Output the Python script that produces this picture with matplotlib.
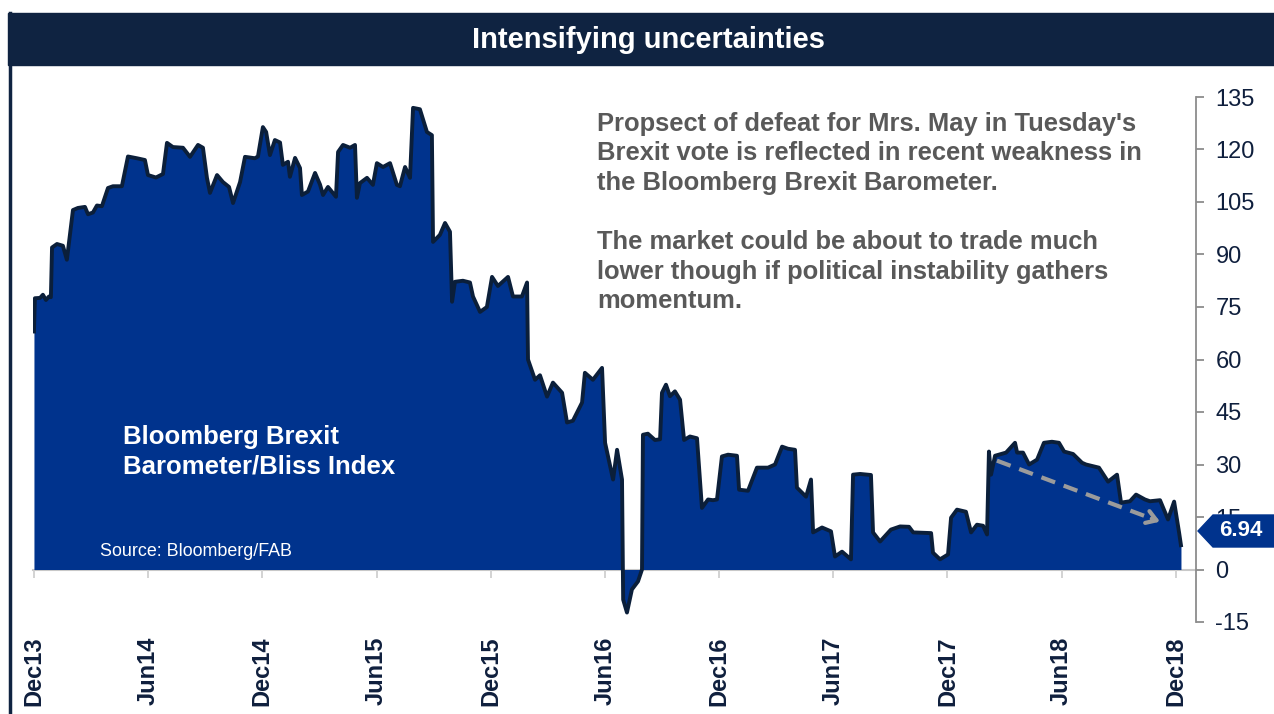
import matplotlib
matplotlib.use("Agg")
import matplotlib.pyplot as plt
from matplotlib.patches import Rectangle, Polygon
from matplotlib.lines import Line2D

plt.rcParams['font.family'] = ['Liberation Sans', 'DejaVu Sans']

# ---- data (months since Dec-2013, index value) ----
months = [0.00, 0.05, 0.32, 0.47, 0.63, 0.79, 0.89, 0.95, 1.21, 1.52, 1.73,
          2.05, 2.31, 2.68, 2.84, 3.10, 3.31, 3.57, 3.89, 4.15, 4.62, 4.94,
          5.41, 5.83, 5.99, 6.41, 6.78, 6.99, 7.30, 7.83, 8.20, 8.62, 8.88,
          9.09, 9.25, 9.62, 9.93, 10.25, 10.46, 10.83, 11.09, 11.61, 11.77,
          12.03, 12.20, 12.40, 12.66, 12.93, 13.08, 13.35, 13.45, 13.72, 13.98,
          14.08, 14.40, 14.77, 15.03, 15.19, 15.45, 15.87, 15.98, 16.24, 16.61,
          16.87, 16.97, 17.13, 17.50, 17.81, 18.02, 18.34, 18.71, 19.07, 19.23,
          19.50, 19.76, 19.92, 20.28, 20.65, 20.91, 20.97, 21.33, 21.60, 21.86,
          21.97, 22.12, 22.54, 22.91, 23.07, 23.44, 23.80, 24.07, 24.38, 24.91,
          25.17, 25.64, 25.91, 25.96, 26.33, 26.59, 26.96, 27.27, 27.75, 28.01,
          28.32, 28.80, 28.95, 29.37, 29.85, 30.01, 30.43, 30.64, 30.90, 30.96,
          31.16, 31.42, 31.74, 31.95, 32.00, 32.26, 32.63, 32.90, 33.00, 33.21,
          33.42, 33.68, 33.95, 34.16, 34.47, 34.84, 35.10, 35.42, 35.68, 35.89,
          36.15, 36.47, 36.94, 37.05, 37.52, 37.99, 38.57, 38.94, 39.31, 39.62,
          39.99, 40.09, 40.57, 40.83, 40.94, 41.41, 41.88, 42.09, 42.46, 42.93,
          43.04, 43.41, 43.98, 44.09, 44.46, 45.03, 45.51, 45.98, 46.20, 47.14,
          47.24, 47.61, 48.03, 48.19, 48.50, 48.97, 49.24, 49.55, 49.87, 50.08,
          50.18, 50.29, 50.50, 51.08, 51.55, 51.66, 51.97, 52.29, 52.71, 53.07,
          53.49, 53.86, 54.13, 54.60, 55.07, 55.28, 55.96, 56.44, 56.91, 57.12,
          57.59, 57.91, 58.38, 58.64, 59.17, 59.59, 59.91, 60.17, 60.27]
values = [68.0, 77.5, 77.6, 78.5, 77.0, 78.0, 77.8, 92.0, 93.0, 92.5, 88.5,
          102.7, 103.3, 103.6, 101.5, 102.0, 104.0, 103.8, 109.0, 109.5, 109.5, 118.0,
          117.5, 117.0, 112.7, 112.0, 113.0, 121.9, 120.7, 120.5, 117.9, 121.3, 120.5,
          111.9, 107.6, 112.7, 110.7, 109.3, 104.7, 110.7, 117.9, 117.5, 118.0,
          126.4, 125.0, 118.4, 122.7, 122.0, 115.6, 116.5, 112.2, 117.6, 114.7,
          107.0, 108.0, 113.3, 110.0, 107.0, 109.3, 106.5, 119.3, 121.3, 120.5,
          121.3, 106.2, 110.4, 111.9, 109.9, 116.1, 115.0, 116.1, 109.9, 109.5,
          115.0, 111.9, 131.9, 131.5, 125.0, 124.1, 93.6, 95.6, 99.0, 96.5,
          76.5, 82.2, 82.5, 82.0, 78.0, 73.6, 75.0, 83.6, 81.0, 83.6,
          78.0, 78.0, 82.0, 60.0, 54.2, 55.5, 49.4, 53.4, 50.5, 42.0,
          42.5, 47.7, 56.2, 54.2, 57.6, 36.2, 25.7, 34.2, 25.7, -8.6,
          -12.3, -5.7, -3.4, 0.0, 38.5, 38.8, 37.0, 37.2, 50.5, 52.8,
          49.5, 50.9, 48.5, 37.0, 38.0, 37.5, 17.6, 20.0, 19.8, 20.0,
          32.3, 32.8, 32.5, 22.8, 22.5, 29.1, 29.1, 30.0, 35.1, 34.5,
          34.2, 23.4, 20.8, 25.7, 10.6, 12.0, 10.9, 3.7, 5.1, 2.9,
          27.1, 27.3, 27.0, 10.6, 8.0, 11.4, 12.3, 12.2, 10.6, 10.4,
          4.8, 2.9, 4.3, 14.8, 17.1, 16.5, 10.6, 12.8, 12.5, 10.0,
          33.7, 27.1, 32.5, 33.4, 36.2, 33.4, 33.4, 30.0, 31.4, 36.2,
          36.5, 36.2, 33.7, 33.0, 30.5, 30.0, 29.1, 25.1, 27.1, 19.1,
          19.5, 21.4, 20.0, 19.5, 19.8, 14.3, 19.4, 10.6, 6.94]

tick_months = [0, 6, 12, 18, 24, 30, 36, 42, 48, 54, 60]
tick_labels = ['Dec13', 'Jun14', 'Dec14', 'Jun15', 'Dec15', 'Jun16',
               'Dec16', 'Jun17', 'Dec17', 'Jun18', 'Dec18']
y_ticks = [-15, 0, 15, 30, 45, 60, 75, 90, 105, 120, 135]
last_value_label = '6.94'

NAVY_DARK = '#0F2341'
FILL = '#00338D'
OUTLINE = '#0B1F3A'
GREY_TXT = '#595959'

W, H = 1274, 714
fig = plt.figure(figsize=(W / 100, H / 100), dpi=100)
fig.patch.set_facecolor('white')

def fx(px):
    return px / W

def fy(py):
    return 1 - py / H

ax = fig.add_axes([fx(33), fy(622), fx(1196) - fx(33), fy(97) - fy(622)])
ax.set_facecolor('none')
ax.set_xlim(-0.05, 61.06)
ax.set_ylim(-15, 135)

ax.fill_between(months, values, 0, color=FILL, lw=0, zorder=1)
ax.plot(months, values, color=OUTLINE, lw=2.8, solid_joinstyle='round', zorder=2)

# dashed trend arrow
ax.plot([50.6, 58.9], [31.1, 14.2], color='#9B9B9B', lw=3, ls=(0, (3.5, 2.2)), zorder=3)
ax.annotate('', xy=(59.31, 13.4), xytext=(58.6, 14.8),
            arrowprops=dict(arrowstyle='->,head_length=0.7,head_width=0.45',
                            color='#9B9B9B', lw=3), zorder=3)

# spines & axes
for s in ['top', 'left']:
    ax.spines[s].set_visible(False)
ax.spines['right'].set_color('#8C8C8C')
ax.spines['right'].set_linewidth(1.3)
ax.spines['bottom'].set_position(('data', 0))
ax.spines['bottom'].set_color('#C8C8C8')
ax.spines['bottom'].set_linewidth(1.5)
ax.spines['bottom'].set_zorder(0.5)

ax.yaxis.tick_right()
ax.set_yticks(y_ticks)
ax.set_yticklabels([str(v) for v in y_ticks])
ax.tick_params(axis='y', direction='out', length=6, width=1.3, color='#8C8C8C',
               labelsize=17, labelcolor='#0F1F3D', pad=8)

ax.set_xticks(tick_months)
ax.tick_params(axis='x', direction='out', length=6, width=1.3, color='#D0D0D0',
               labelbottom=False)
for m, lab in zip(tick_months, tick_labels):
    ax.text(m, -0.027, lab, transform=ax.get_xaxis_transform(), rotation=90,
            ha='center', va='top', fontsize=17, fontweight='bold', color='#0F1F3D')

# title bar & border
fig.patches.append(Rectangle((fx(8), fy(65)), 1 - fx(8), fy(13) - fy(65),
                             transform=fig.transFigure, color=NAVY_DARK, zorder=0))
fig.lines.append(Line2D([fx(9.5), fx(9.5)], [0, fy(13)], transform=fig.transFigure,
                        color=NAVY_DARK, lw=2.5))
fig.text(fx(649), fy(40), 'Intensifying uncertainties', ha='center', va='center',
         color='white', fontsize=21, fontweight='bold')

# commentary text
para = ["Propsect of defeat for Mrs. May in Tuesday's",
        "Brexit vote is reflected in recent weakness in",
        "the Bloomberg Brexit Barometer.",
        "",
        "The market could be about to trade much",
        "lower though if political instability gathers",
        "momentum."]
for i, line in enumerate(para):
    fig.text(fx(597), fy(124 + i * 29.5), line, ha='left', va='center',
             color=GREY_TXT, fontsize=18.4, fontweight='bold')

fig.text(fx(123), fy(437), 'Bloomberg Brexit', ha='left', va='center',
         color='white', fontsize=18.5, fontweight='bold')
fig.text(fx(123), fy(467), 'Barometer/Bliss Index', ha='left', va='center',
         color='white', fontsize=18.5, fontweight='bold')
fig.text(fx(100), fy(551), 'Source: Bloomberg/FAB', ha='left', va='center',
         color='white', fontsize=12.9)

# last value tag
tag = [(fx(1198), fy(531)), (fx(1213), fy(515)), (1.0, fy(515)),
       (1.0, fy(547)), (fx(1213), fy(547))]
fig.patches.append(Polygon(tag, closed=True, transform=fig.transFigure,
                           color=FILL, zorder=5))
fig.text(fx(1241), fy(531), last_value_label, ha='center', va='center',
         color='white', fontsize=16, fontweight='bold', zorder=6)

fig.savefig('out.png', dpi=100)
